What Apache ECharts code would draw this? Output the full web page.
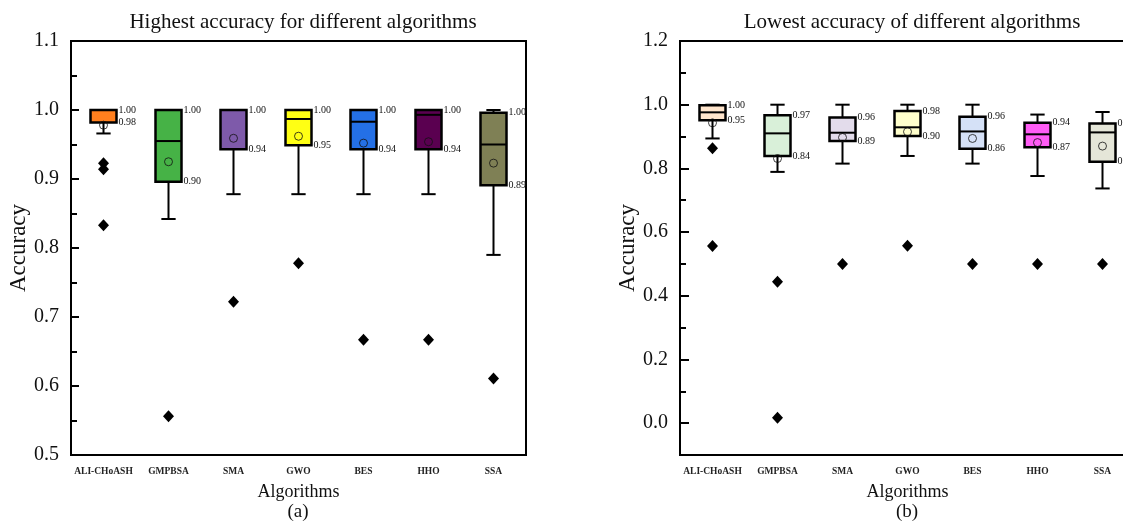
<!DOCTYPE html>
<html><head><meta charset="utf-8">
<script src="https://cdn.jsdelivr.net/npm/echarts@6/dist/echarts.min.js"></script>
<style>html,body{margin:0;padding:0;background:#fff;overflow:hidden}#c{width:1160px;height:521px}</style>
</head><body><div id="c"></div>
<script>
const categories = ['ALI-CHoASH','GMPBSA','SMA','GWO','BES','HHO','SSA'];

// (a) Highest accuracy
const hiWhiskerLow  = [0.966, 0.842, 0.878, 0.878, 0.878, 0.878, 0.790];
const hiQ1          = [0.982, 0.896, 0.943, 0.949, 0.943, 0.943, 0.891];
const hiMedian      = [1.000, 0.955, 1.000, 0.987, 0.983, 0.993, 0.950];
const hiQ3          = [1.000, 1.000, 1.000, 1.000, 1.000, 1.000, 0.996];
const hiWhiskerHigh = [1.000, 1.000, 1.000, 1.000, 1.000, 1.000, 1.000];
const hiMean        = [0.978, 0.925, 0.959, 0.962, 0.952, 0.954, 0.923];
const hiOutliers    = [[0.923, 0.914, 0.833], [0.556], [0.722], [0.778], [0.667], [0.667], [0.611]];
const hiTicks       = [0.5, 0.6, 0.7, 0.8, 0.9, 1.0, 1.1];

// (b) Lowest accuracy
const loWhiskerLow  = [0.894, 0.789, 0.815, 0.839, 0.815, 0.776, 0.737];
const loQ1          = [0.951, 0.839, 0.886, 0.902, 0.862, 0.866, 0.821];
const loMedian      = [0.976, 0.910, 0.912, 0.929, 0.916, 0.907, 0.913];
const loQ3          = [0.998, 0.967, 0.960, 0.980, 0.962, 0.943, 0.941];
const loWhiskerHigh = [1.000, 1.000, 1.000, 1.000, 1.000, 0.969, 0.977];
const loMean        = [0.943, 0.831, 0.897, 0.915, 0.894, 0.881, 0.870];
const loOutliers    = [[0.863, 0.556], [0.444, 0.017], [0.500], [0.557], [0.500], [0.500], [0.500]];
const loTicks       = [0.0, 0.2, 0.4, 0.6, 0.8, 1.0, 1.2];
const loMinorTicks  = [0.1, 0.3, 0.5, 0.7, 0.9, 1.1];

const hiColors = ['#FF7F1E', '#46B246', '#7E5AAA', '#FFFF14', '#2470E6', '#5A0050', '#7F8055'];
const loColors = ['#FFE5CC', '#D9F0D9', '#E3DCEB', '#FFFFCC', '#D5E1F7', '#FF5CF5', '#E5E6D8'];

const SERIF = '"Liberation Serif", "Times New Roman", serif';

function boxData(lw, q1, med, q3, hw) {
  return categories.map((c, i) => [i, lw[i], q1[i], med[i], q3[i], hw[i]]);
}
function pointData(arr) {
  return arr.map((v, i) => [i, v]);
}
function outlierData(arr) {
  const out = [];
  arr.forEach((list, i) => list.forEach(v => out.push([i, v])));
  return out;
}
function makeRender(colors) {
  return function (params, api) {
    const x = api.value(0);
    const lw = api.value(1), q1 = api.value(2), med = api.value(3), q3 = api.value(4), hw = api.value(5);
    const band = api.size([1, 0])[0];
    const bw = band * 0.4, cw = band * 0.22;
    const pLw = api.coord([x, lw]), pQ1 = api.coord([x, q1]), pMed = api.coord([x, med]);
    const pQ3 = api.coord([x, q3]), pHw = api.coord([x, hw]);
    const cx = pQ1[0];
    const ls = { stroke: '#000', lineWidth: 2 };
    const tf = '10px ' + SERIF;
    return {
      type: 'group',
      children: [
        { type: 'line', shape: { x1: cx, y1: pHw[1], x2: cx, y2: pQ3[1] }, style: ls },
        { type: 'line', shape: { x1: cx - cw / 2, y1: pHw[1], x2: cx + cw / 2, y2: pHw[1] }, style: ls },
        { type: 'line', shape: { x1: cx, y1: pQ1[1], x2: cx, y2: pLw[1] }, style: ls },
        { type: 'line', shape: { x1: cx - cw / 2, y1: pLw[1], x2: cx + cw / 2, y2: pLw[1] }, style: ls },
        { type: 'rect', shape: { x: cx - bw / 2, y: pQ3[1], width: bw, height: pQ1[1] - pQ3[1] },
          style: { fill: colors[params.dataIndex], stroke: '#000', lineWidth: 2.5 } },
        { type: 'line', shape: { x1: cx - bw / 2, y1: pMed[1], x2: cx + bw / 2, y2: pMed[1] }, style: ls },
        { type: 'text', style: { x: cx + bw / 2 + 2, y: pQ3[1], text: q3.toFixed(2), font: tf, fill: '#111', align: 'left', verticalAlign: 'middle' } },
        { type: 'text', style: { x: cx + bw / 2 + 2, y: pQ1[1], text: q1.toFixed(2), font: tf, fill: '#111', align: 'left', verticalAlign: 'middle' } }
      ]
    };
  };
}

const axisLineStyle = { lineStyle: { color: '#000', width: 2 } };

function xAxisCfg(gi) {
  return {
    type: 'category', gridIndex: gi, data: categories, boundaryGap: true,
    axisLine: Object.assign({ onZero: false }, axisLineStyle),
    axisTick: { inside: true, alignWithLabel: true, length: 8, lineStyle: { color: '#000', width: 2 } },
    axisLabel: { interval: 0, margin: 12, fontFamily: SERIF, fontSize: 9.5, fontWeight: 'bold', color: '#222' },
    name: 'Algorithms', nameLocation: 'middle', nameGap: 28,
    nameTextStyle: { fontFamily: SERIF, fontSize: 18, color: '#111' },
    splitLine: { show: false }
  };
}

const chart = echarts.init(document.getElementById('c'));
chart.setOption({
  animation: false,
  backgroundColor: '#fff',
  title: [
    { text: 'Highest accuracy for different algorithms', left: 298, top: 7, textAlign: 'center',
      textStyle: { fontFamily: SERIF, fontSize: 21, fontWeight: 'normal', color: '#111' } },
    { text: 'Lowest accuracy of different algorithms', left: 907, top: 7, textAlign: 'center',
      textStyle: { fontFamily: SERIF, fontSize: 21, fontWeight: 'normal', color: '#111' } }
  ],
  graphic: [
    { type: 'text', x: 298, y: 512, style: { text: '(a)', font: '19px ' + SERIF, fill: '#111', align: 'center', verticalAlign: 'middle' } },
    { type: 'text', x: 907, y: 512, style: { text: '(b)', font: '19px ' + SERIF, fill: '#111', align: 'center', verticalAlign: 'middle' } }
  ],
  grid: [
    { left: 71, top: 41, width: 455, height: 414, show: true, borderColor: '#000', borderWidth: 2 },
    { left: 680, top: 41, width: 455, height: 414, show: true, borderColor: '#000', borderWidth: 2 }
  ],
  xAxis: [xAxisCfg(0), xAxisCfg(1)],
  yAxis: [
    {
      type: 'value', gridIndex: 0, position: 'left', min: 0.5, max: 1.1, interval: 0.1,
      axisLine: Object.assign({ show: true, onZero: false }, axisLineStyle),
      axisTick: { show: true, inside: true, length: 8, lineStyle: { color: '#000', width: 2 } },
      minorTick: { show: true, splitNumber: 2, length: 6, lineStyle: { color: '#000', width: 2 } },
      axisLabel: { margin: 12, fontFamily: SERIF, fontSize: 20, color: '#111', formatter: v => v.toFixed(1) },
      splitLine: { show: false }, minorSplitLine: { show: false },
      name: 'Accuracy', nameLocation: 'middle', nameGap: 38,
      nameTextStyle: { fontFamily: SERIF, fontSize: 23, color: '#111' }
    },
    {
      type: 'value', gridIndex: 1, position: 'left', min: -0.1, max: 1.2,
      axisLine: Object.assign({ show: true, onZero: false }, axisLineStyle),
      axisTick: { show: true, inside: true, length: 9, customValues: loTicks, lineStyle: { color: '#000', width: 2 } },
      axisLabel: { margin: 12, fontFamily: SERIF, fontSize: 20, color: '#111', customValues: loTicks, formatter: v => v.toFixed(1) },
      splitLine: { show: false },
      name: 'Accuracy', nameLocation: 'middle', nameGap: 41,
      nameTextStyle: { fontFamily: SERIF, fontSize: 23, color: '#111' }
    },
    {
      type: 'value', gridIndex: 1, position: 'left', offset: 0, min: -0.1, max: 1.2,
      axisLine: { show: false, onZero: false },
      axisTick: { show: true, inside: true, length: 6, customValues: loMinorTicks, lineStyle: { color: '#000', width: 2 } },
      axisLabel: { show: false },
      splitLine: { show: false }
    }
  ],
  series: [
    { type: 'custom', xAxisIndex: 0, yAxisIndex: 0, z: 2, renderItem: makeRender(hiColors),
      data: boxData(hiWhiskerLow, hiQ1, hiMedian, hiQ3, hiWhiskerHigh), encode: { x: 0, y: [1, 2, 3, 4, 5] } },
    { type: 'scatter', xAxisIndex: 0, yAxisIndex: 0, z: 3, symbol: 'circle', symbolSize: 8,
      itemStyle: { color: 'rgba(0,0,0,0)', borderColor: '#111', borderWidth: 1 }, data: pointData(hiMean) },
    { type: 'scatter', xAxisIndex: 0, yAxisIndex: 0, z: 3, symbol: 'diamond', symbolSize: [11, 12],
      itemStyle: { color: '#000', opacity: 1 }, data: outlierData(hiOutliers) },
    { type: 'custom', xAxisIndex: 1, yAxisIndex: 1, z: 2, renderItem: makeRender(loColors),
      data: boxData(loWhiskerLow, loQ1, loMedian, loQ3, loWhiskerHigh), encode: { x: 0, y: [1, 2, 3, 4, 5] } },
    { type: 'scatter', xAxisIndex: 1, yAxisIndex: 1, z: 3, symbol: 'circle', symbolSize: 8,
      itemStyle: { color: 'rgba(0,0,0,0)', borderColor: '#111', borderWidth: 1 }, data: pointData(loMean) },
    { type: 'scatter', xAxisIndex: 1, yAxisIndex: 1, z: 3, symbol: 'diamond', symbolSize: [11, 12],
      itemStyle: { color: '#000', opacity: 1 }, data: outlierData(loOutliers) }
  ]
});
</script>
</body></html>
